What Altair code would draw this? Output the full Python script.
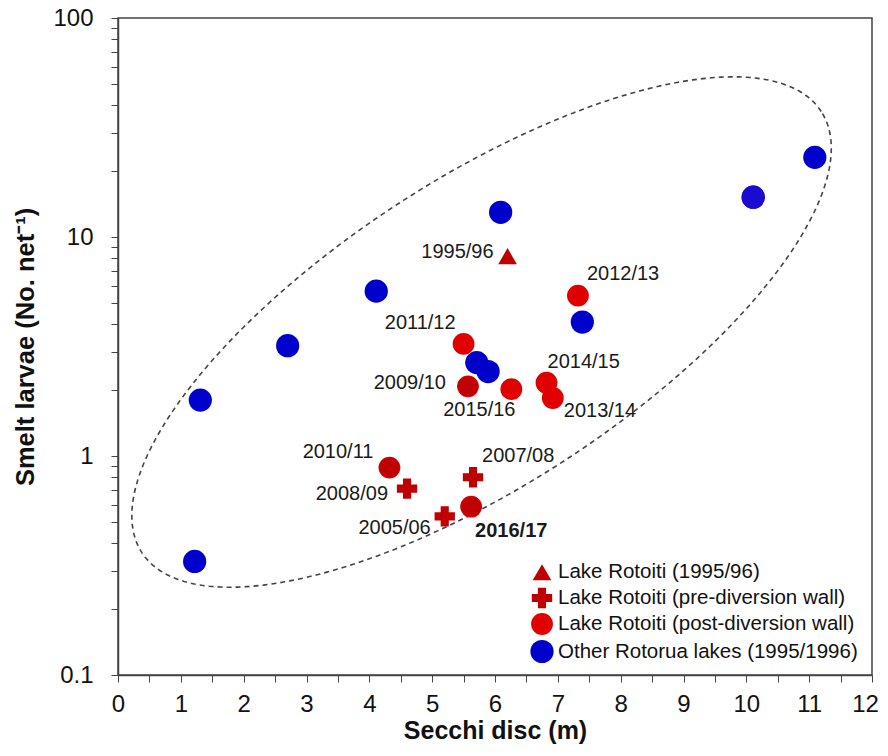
import altair as alt
import numpy as np
import pandas as pd

# ---------------- data ----------------
tri_x = [6.20]
tri_y = [8.17]
tri_labels = ["1995/96"]

pre_x = [4.60, 5.65, 5.20]
pre_y = [0.71, 0.80, 0.53]
pre_labels = ["2008/09", "2007/08", "2005/06"]

post_x = [7.32, 5.50, 5.57, 6.26, 6.82, 6.92, 4.32, 5.62]
post_y = [5.40, 3.25, 2.08, 2.02, 2.16, 1.84, 0.885, 0.587]
post_labels = ["2012/13", "2011/12", "2009/10", "2015/16", "2014/15",
               "2013/14", "2010/11", "2016/17"]

other_x = [1.22, 1.31, 2.70, 4.11, 6.09, 7.39, 5.71, 5.89, 10.11, 11.09]
other_y = [0.33, 1.80, 3.19, 5.66, 12.97, 4.09, 2.67, 2.43, 15.2, 23.1]

groups = ["Lake Rotoiti (1995/96)",
          "Lake Rotoiti (pre-diversion wall)",
          "Lake Rotoiti (post-diversion wall)",
          "Other Rotorua lakes (1995/1996)"]

x_ticks = [k / 2 for k in range(0, 25)]
y_decades = [0.1, 1, 10, 100]

# ---------------- styles ----------------
W, H = 754, 657
FONT = "Liberation Sans"
group_colors = ["#C00000", "#C00000", "#E00000", "#0000CC"]
group_shapes = ["triangle-up", "cross", "circle", "circle"]
group_sizes = [350, 540, 400, 400]
dark_years = ["2009/10", "2010/11", "2016/17"]

# label offsets: (dx, dy, align, weight)
label_style = {
    "1995/96": (-14, -4, "right", "normal"),
    "2012/13": (9, -22, "left", "normal"),
    "2011/12": (-8, -21, "right", "normal"),
    "2009/10": (-22, -3, "right", "normal"),
    "2015/16": (-32, 21, "center", "normal"),
    "2014/15": (1, -21, "left", "normal"),
    "2013/14": (11, 13, "left", "normal"),
    "2010/11": (-16, -16, "right", "normal"),
    "2008/09": (-19, 5, "right", "normal"),
    "2007/08": (9, -21, "left", "normal"),
    "2005/06": (-14, 12, "right", "normal"),
    "2016/17": (4, 24, "left", "bold"),
}

# ellipse (centre in data units, semi-axes in pixels, angle in degrees)
ell_cx, ell_clog = 5.786, 0.566
ell_a, ell_b, ell_ang = 405.0, 153.0, 33.0

# ---------------- tables ----------------
rows = []
for xs, ys, labs, g in [(tri_x, tri_y, tri_labels, groups[0]),
                        (pre_x, pre_y, pre_labels, groups[1]),
                        (post_x, post_y, post_labels, groups[2]),
                        (other_x, other_y, [""] * len(other_x), groups[3])]:
    for xv, yv, lab in zip(xs, ys, labs):
        rows.append({"x": xv, "y": yv, "label": lab, "group": g})
df = pd.DataFrame(rows)

t = np.linspace(0, 2 * np.pi, 361)
th = np.deg2rad(ell_ang)
px = ell_a * np.cos(t) * np.cos(th) - ell_b * np.sin(t) * np.sin(th)
py = ell_a * np.cos(t) * np.sin(th) + ell_b * np.sin(t) * np.cos(th)
ell = pd.DataFrame({
    "x": ell_cx + px * 12.0 / W,
    "y": 10 ** (ell_clog + py * 3.0 / H),
    "i": np.arange(len(t)),
})

# ---------------- encodings ----------------
y_vals = [round(k * d, 4) for d in [0.1, 1, 10] for k in range(1, 10)] + [100]
x_scale = alt.Scale(domain=[0, 12], nice=False, zero=False)
y_scale = alt.Scale(type="log", domain=[0.1, 100], nice=False)

x_enc = alt.X("x:Q", scale=x_scale, axis=alt.Axis(
    values=x_ticks, title="Secchi disc (m)", grid=False, tickSize=7,
    format="~g", labelOverlap=False,
    labelExpr="(datum.value % 1 == 0) ? datum.label : ''",
    labelOffset={"condition": {"test": "datum.value == 12", "value": -7}, "value": 0},
    labelFlush=False, labelPadding=10, labelFontSize=24, titleFontSize=25,
    titleFontWeight="bold", titlePadding=2))
y_enc = alt.Y("y:Q", scale=y_scale, axis=alt.Axis(
    values=y_vals, title="Smelt larvae (No. net⁻¹)", grid=False, tickSize=7,
    format="~g", labelOverlap=False, labelFlush=False,
    labelExpr="(datum.value == 0.1 || datum.value == 1 || datum.value == 10 || datum.value == 100) ? datum.label : ''",
    labelPadding=18, labelFontSize=24, titleFontSize=25.5,
    titleFontWeight="bold", titlePadding=14))

ellipse = alt.Chart(ell).mark_line(
    strokeDash=[5, 4], color="#444444", strokeWidth=1.6, clip=True
).encode(x=x_enc, y=y_enc, order="i:Q")

points = alt.Chart(df).mark_point(filled=True, opacity=1).encode(
    x=x_enc, y=y_enc,
    color=alt.Color("group:N", scale=alt.Scale(domain=groups, range=group_colors),
                    legend=alt.Legend(title=None, orient="none", legendX=412, legendY=544,
                                      labelFontSize=20.5, labelFont=FONT, symbolSize=380,
                                      rowPadding=4.5, labelOffset=4, padding=0,
                                      symbolStrokeWidth=0, labelColor="#111111",
                                      labelLimit=400)),
    shape=alt.Shape("group:N", scale=alt.Scale(domain=groups, range=group_shapes)),
    size=alt.Size("group:N", scale=alt.Scale(domain=groups, range=group_sizes), legend=None),
)

dark = alt.Chart(df).transform_filter(
    alt.FieldOneOfPredicate(field="label", oneOf=dark_years)
).mark_circle(color="#C00000", size=400, opacity=1).encode(x=x_enc, y=y_enc)

big = alt.Chart(df).transform_filter(
    alt.datum.x == other_x[8]
).mark_circle(color="#1A0BD0", size=540, opacity=1).encode(x=x_enc, y=y_enc)

texts = []
for lab, (dx, dy, al, wt) in label_style.items():
    texts.append(
        alt.Chart(df).transform_filter(alt.datum.label == lab).mark_text(
            dx=dx, dy=dy, align=al, baseline="middle", fontSize=20,
            font=FONT, fontWeight=wt, color="#1a1a1a"
        ).encode(x=x_enc, y=y_enc, text="label:N")
    )

chart = alt.layer(ellipse, points, dark, big, *texts).properties(
    width=W, height=H,
    autosize=alt.AutoSizeParams(type="none"),
    padding={"left": 110, "top": 10, "right": 8, "bottom": 72},
).configure_view(
    stroke="#444444", strokeWidth=1.5
).configure_axis(
    labelFont=FONT, titleFont=FONT, domainColor="#444444", tickColor="#444444",
    domainWidth=1.5, labelColor="#111111", titleColor="#111111"
).configure_legend(
    labelFont=FONT
)

chart.save("out.html", embed_options={"renderer": "svg", "actions": False})
